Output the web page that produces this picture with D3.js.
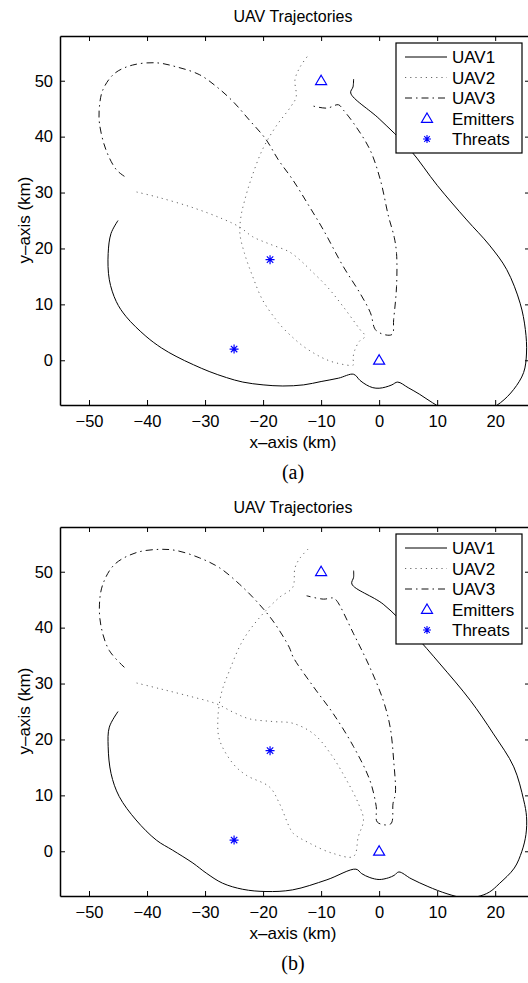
<!DOCTYPE html>
<html>
<head>
<meta charset="utf-8">
<script src="https://cdn.jsdelivr.net/npm/d3@7"></script>
<style>
  body { margin: 0; background: #fff; }
  text { font-family: "Liberation Sans", Arial, sans-serif; }
</style>
</head>
<body>
<svg width="528" height="983"></svg>
<script>
// axis ticks
var xTicks = [-50, -40, -30, -20, -10, 0, 10, 20];
var yTicks = [0, 10, 20, 30, 40, 50];
var legendLabels = ["UAV1", "UAV2", "UAV3", "Emitters", "Threats"];

// markers (km)
var emitters = [[-10, 50], [0, 0]];
var threats = [[-25, 2], [-18.8, 18]];

// panel (a) trajectories
var uav1A = [[-45,25],[-46.2,22.7],[-46.7,19.1],[-46.5,14.4],[-45.3,10.5],[-43.6,7.8],[-40.2,4.3],[-37.5,2.2],[-35,0.7],[-32,-0.8],[-29.3,-2],[-26.3,-3.1],[-23.5,-3.9],[-20,-4.4],[-16.6,-4.6],[-13,-4.4],[-10,-3.8],[-7,-3.2],[-4.4,-2.5],[-3.3,-3.6],[-2.2,-4.4],[-1.1,-4.9],[0,-5],[1.1,-4.8],[2.2,-4.4],[3.2,-3.9],[5,-4.9],[7,-6.1],[9.2,-7.6],[12,-9.2],[15,-9.9],[18,-9.3],[20.9,-7.6],[23.2,-5.2],[24.9,-2.2],[25.4,1.3],[25.2,5.5],[24.3,10.2],[22,16.2],[19,20.6],[15.1,25.1],[10,31.3],[5.3,37.7],[0,43.2],[-4.9,47.8],[-4.5,48.9],[-4.4,50.3]];
var uav2A = [[-41.8,30.1],[-37.9,29.1],[-32.1,27.3],[-27,25.3],[-24,23.8],[-21.8,22.1],[-18.9,20.8],[-15.5,19.4],[-13.5,17.8],[-11.9,16.2],[-9,13.2],[-6.2,9.6],[-3.3,5.5],[-2.4,4.3],[-3.4,3.4],[-4.2,1.8],[-4.5,0.3],[-4.4,-0.8],[-7.3,-0.5],[-9.5,0.3],[-11.3,1.3],[-13.2,2.6],[-14.8,4],[-16.5,5.7],[-17.8,7.3],[-20.1,10.8],[-21.8,15],[-23.2,19.1],[-24,22.7],[-23.8,25.8],[-23.2,28.5],[-22.1,32.3],[-20.1,37.7],[-17.8,41.8],[-15.2,45.4],[-14.3,47.1],[-14.5,50.2],[-13.6,52.5],[-12.4,54.3]];
var uav3A = [[-43.9,32.9],[-45.3,34.1],[-47.1,37.7],[-48.2,42.4],[-48.2,45.4],[-47.6,48.4],[-45.6,51.3],[-42.5,52.8],[-38.4,53.2],[-35,52.5],[-31,51.1],[-28.1,49],[-25.2,46.3],[-22.4,43],[-19.5,39.5],[-17.4,35.9],[-14.9,32.3],[-12.2,27.8],[-9.6,23.3],[-6.2,16.8],[-3.3,12],[-1.5,8.5],[-0.5,5.3],[2.2,4.6],[2.5,7.3],[3,13.2],[3,19.1],[2.6,22],[1.6,25.8],[0.2,32.3],[-1.6,37.7],[-4.4,42.4],[-6.2,44.8],[-7,45.7],[-9,45.1],[-11.5,45.5]];

// panel (b) trajectories
var uav1B = [[-45,25],[-46.5,22.2],[-46.7,18.7],[-46.2,13.9],[-44.8,9.8],[-41.9,5.6],[-38.4,2],[-35.6,0.2],[-32.1,-2.1],[-29.8,-3.9],[-27,-5.7],[-23.5,-6.8],[-19.5,-7.2],[-14.9,-6.9],[-9,-5.1],[-4,-3.2],[-3,-4],[-1.6,-4.7],[0,-5.05],[1.6,-4.75],[2.6,-4.3],[3.4,-3.7],[5.5,-4.9],[8.4,-6.3],[11.7,-7.6],[14.5,-8.3],[17,-8.1],[19,-7.3],[20.7,-5.8],[23.3,-3],[24.6,0],[25.3,3],[25.4,6.2],[24.9,9.2],[23.2,15.1],[19.7,21],[15.7,27],[10.5,33.5],[5.9,38.9],[0.7,44.2],[-4.7,47.8],[-4.4,49],[-4.4,50.2]];
var uav2B = [[-41.8,30.1],[-37.9,29.1],[-33.3,27.9],[-28.1,26.4],[-25.2,24.9],[-22.4,23.7],[-18.3,23.2],[-14.9,22.9],[-11.3,21],[-8.4,17.5],[-5.6,12.7],[-3.6,8.6],[-2.7,5.6],[-3.6,2.6],[-4.4,-0.9],[-7.9,-0.4],[-11.9,1.4],[-14.8,3.2],[-15.5,4.4],[-17.2,8.6],[-18.9,11.5],[-22.9,13.6],[-25.2,15.7],[-27.5,19.9],[-27.8,23.4],[-27.2,28.2],[-25.8,32.3],[-23.5,37.7],[-20.6,41.8],[-17.2,45.4],[-14.9,47.2],[-14.5,50.7],[-13.6,52.5],[-12,54.3]];
var uav3B = [[-43.9,32.9],[-46.5,35.9],[-47.9,40.1],[-48.2,44.2],[-47.6,47.8],[-45.6,51.3],[-41.9,53.4],[-37.9,54],[-35,53.8],[-31,52.5],[-27.5,50.7],[-24.1,47.8],[-21.2,44.8],[-18.3,41.2],[-15.5,36.5],[-14.8,34.7],[-11.3,29.4],[-7.9,24.6],[-4.4,18.7],[-1.6,12.7],[-0.5,8],[-0.3,5.2],[2,4.9],[2.4,8.6],[2.8,10.3],[2.5,16.3],[1.9,22.2],[0.7,27],[-1.6,32.9],[-4.4,38.9],[-7.3,44.8],[-7.9,45.3],[-9.6,45.1],[-12.5,45.7]];

var svg = d3.select("svg");

// line styles for UAV1..3
var styles = [
  { stroke: "#000", dash: null, width: 1 },
  { stroke: "#666", dash: "1.2,4", width: 1 },
  { stroke: "#111", dash: "7,4,1.5,4", width: 1 }
];

var xScale = d3.scaleLinear().domain([-55, 26]).range([60, 530]);

function drawPanel(top, series, caption, id) {
  var yScale = d3.scaleLinear().domain([-8, 58]).range([top + 369, top]);
  var g = svg.append("g");

  // clip to the axes box
  g.append("clipPath").attr("id", "clip" + id)
    .append("rect").attr("x", 60).attr("y", top).attr("width", 470).attr("height", 369);

  var line = d3.line()
    .x(function (d) { return xScale(d[0]); })
    .y(function (d) { return yScale(d[1]); })
    .curve(d3.curveCatmullRom.alpha(0.5));

  var plot = g.append("g").attr("clip-path", "url(#clip" + id + ")");
  series.forEach(function (s, i) {
    plot.append("path").attr("d", line(s))
      .attr("fill", "none")
      .attr("stroke", styles[i].stroke)
      .attr("stroke-width", styles[i].width)
      .attr("stroke-dasharray", styles[i].dash);
  });

  // emitters
  plot.selectAll(".em").data(emitters).enter().append("path")
    .attr("transform", function (d) { return "translate(" + xScale(d[0]) + "," + yScale(d[1]) + ")"; })
    .attr("d", "M0,-5.5L5.5,3.8L-5.5,3.8Z")
    .attr("fill", "none").attr("stroke", "#00f").attr("stroke-width", 1.2);

  // threats
  plot.selectAll(".th").data(threats).enter().append("path")
    .attr("transform", function (d) { return "translate(" + xScale(d[0]) + "," + yScale(d[1]) + ")"; })
    .attr("d", "M-4.5,0H4.5M0,-4.5V4.5M-3.2,-3.2L3.2,3.2M-3.2,3.2L3.2,-3.2")
    .attr("fill", "none").attr("stroke", "#00f").attr("stroke-width", 1.2);

  // axes
  var xAxis = d3.axisBottom(xScale).tickValues(xTicks).tickSizeInner(-5).tickSizeOuter(0).tickPadding(10);
  var yAxis = d3.axisLeft(yScale).tickValues(yTicks).tickSizeInner(-5).tickSizeOuter(0).tickPadding(7);
  var xTop = d3.axisTop(xScale).tickValues(xTicks).tickSizeInner(-5).tickSizeOuter(0).tickFormat("");
  var yRight = d3.axisRight(yScale).tickValues(yTicks).tickSizeInner(-5).tickSizeOuter(0).tickFormat("");

  g.append("g").attr("transform", "translate(0," + (top + 369) + ")").call(xAxis);
  g.append("g").attr("transform", "translate(60,0)").call(yAxis);
  g.append("g").attr("transform", "translate(0," + top + ")").call(xTop);
  g.append("g").attr("transform", "translate(530,0)").call(yRight);

  g.selectAll(".domain").attr("stroke-width", 1.5);
  g.selectAll(".tick text").attr("font-size", 16.5).attr("font-family", "Liberation Sans, Arial, sans-serif").attr("fill", "#000");

  // labels
  g.append("text").attr("x", 293).attr("y", top - 14).attr("text-anchor", "middle")
    .attr("font-size", 16).text("UAV Trajectories");
  g.append("text").attr("x", 293).attr("y", top + 412).attr("text-anchor", "middle")
    .attr("font-size", 17).text("x\u2013axis (km)");
  g.append("text").attr("transform", "translate(30," + (top + 184) + ") rotate(-90)")
    .attr("text-anchor", "middle").attr("font-size", 17).text("y\u2013axis (km)");
  g.append("text").attr("x", 293).attr("y", top + 443).attr("text-anchor", "middle")
    .attr("font-size", 20).style("font-family", "Liberation Serif, Times New Roman, serif").text(caption);

  // legend
  var lg = g.append("g").attr("transform", "translate(396," + (top + 7) + ")");
  lg.append("rect").attr("width", 126).attr("height", 110)
    .attr("fill", "#fff").attr("stroke", "#000").attr("stroke-width", 1.2);
  legendLabels.forEach(function (name, i) {
    var cy = 14 + i * 20.5;
    if (i < 3) {
      lg.append("line").attr("x1", 9).attr("x2", 51).attr("y1", cy).attr("y2", cy)
        .attr("stroke", styles[i].stroke).attr("stroke-width", styles[i].width)
        .attr("stroke-dasharray", styles[i].dash);
    } else if (i === 3) {
      lg.append("path").attr("transform", "translate(31," + cy + ")")
        .attr("d", "M0,-5.5L5.5,3.8L-5.5,3.8Z")
        .attr("fill", "none").attr("stroke", "#00f").attr("stroke-width", 1.2);
    } else {
      lg.append("path").attr("transform", "translate(31," + cy + ")")
        .attr("d", "M-4,0H4M0,-4V4M-2.8,-2.8L2.8,2.8M-2.8,2.8L2.8,-2.8")
        .attr("fill", "none").attr("stroke", "#00f").attr("stroke-width", 1.1);
    }
    lg.append("text").attr("x", 56).attr("y", cy).attr("dy", "0.36em")
      .attr("font-size", 17).text(name);
  });
}

drawPanel(36, [uav1A, uav2A, uav3A], "(a)", "a");
drawPanel(527, [uav1B, uav2B, uav3B], "(b)", "b");
</script>
</body>
</html>
